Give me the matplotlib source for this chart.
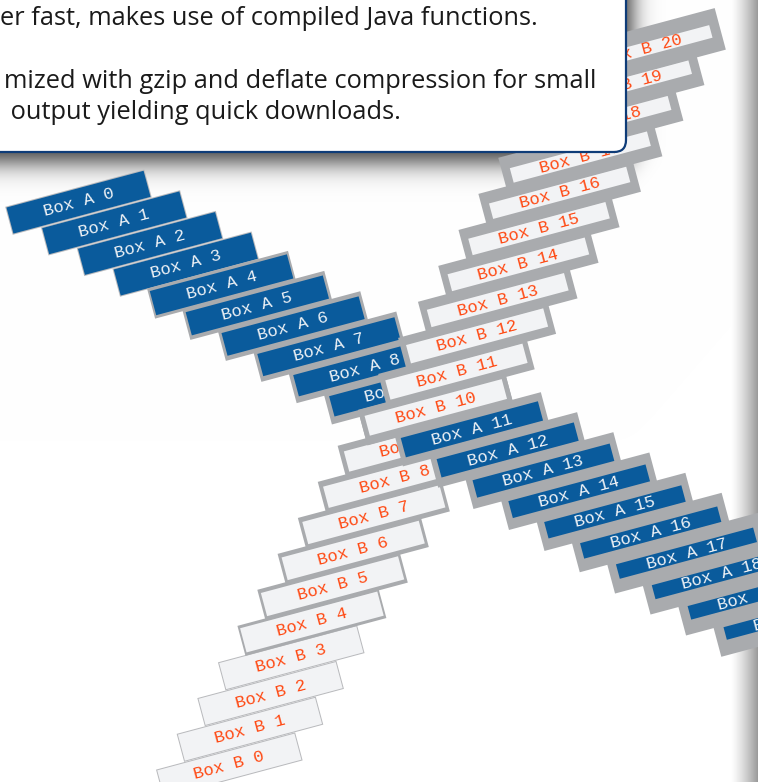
import numpy as np
import matplotlib
matplotlib.use('Agg')
import matplotlib.pyplot as plt
from matplotlib.patches import Rectangle, FancyBboxPatch

# ---- data ----
a_labels = ['Box A %d' % i for i in range(21)]
b_labels = ['Box B %d' % i for i in range(21)]
# border thickness of each box (px, top/bottom), grows with the index
a_border = [1, 1, 1, 1, 3, 4, 4.5, 5, 6, 7, 7.5, 8, 9, 10, 10.5, 11, 12, 13, 13.5, 14, 15]
b_border = [1, 1, 1, 1, 3, 4, 4.5, 5, 6, 7, 7.5, 8, 9, 10, 10.5, 11, 12, 13, 13.5, 14, 15]
panel_lines = ['er fast, makes use of compiled Java functions.',
               'mized with gzip and deflate compression for small',
               ' output yielding quick downloads.']

# ---- layout / style ----
W, H, DPI = 758, 782, 100
ANGLE = 15.0
STEP = 29.2                      # step along and across the rotated frame
A_ORIGIN = (23.5, 215.6)         # (u, v) in the rotated frame
B_ORIGIN = (23.5, 798.3)
INNER_W = 142
BOX_H = 28
BLUE = '#0a5b9c'
LIGHT = '#f2f3f5'
GRAY = '#a9abae'
THIN = '#b9babd'
ORANGE = '#ff4a14'

fig = plt.figure(figsize=(W / DPI, H / DPI), dpi=DPI)
ax = fig.add_axes([0, 0, 1, 1])
ax.set_xlim(0, W)
ax.set_ylim(H, 0)
ax.axis('off')

# background: panel shadow and the page edge on the right
xx, yy = np.meshgrid(np.arange(W) + 0.5, np.arange(H) + 0.5)
sx = 1 / (1 + np.exp((xx - 632) / 6.5))
sy = 1 / (1 + np.exp((yy - 162) / 7.5))
shade = 0.78 * sx * sy
edge = np.clip((xx - 731) / 27.0, 0, 1) ** 1.3 * 0.4
val = 1 - np.maximum(shade, edge)
bg = np.dstack([val, val, val])
ax.imshow(bg, extent=(0, W, H, 0), interpolation='bilinear', zorder=0)

c, s = np.cos(np.radians(ANGLE)), np.sin(np.radians(ANGLE))


def to_xy(u, v):
    return u * c + v * s, -u * s + v * c


def draw_box(cx, cy, b, fill, label, tcolor, z):
    side = 0.65 * b if b > 1 else 1
    ih = BOX_H - b
    ow, oh = INNER_W + 2 * side, ih + 2 * b
    ax.add_patch(Rectangle((cx - ow / 2, cy - oh / 2), ow, oh, angle=-ANGLE,
                           rotation_point='center', fc=GRAY if b > 1 else THIN,
                           ec='none', zorder=z))
    ax.add_patch(Rectangle((cx - INNER_W / 2, cy - ih / 2), INNER_W, ih, angle=-ANGLE,
                           rotation_point='center', fc=fill, ec='none', zorder=z + 0.1))
    ax.text(cx, cy + 0.5, label, rotation=ANGLE, rotation_mode='anchor',
            ha='center', va='center', family='Liberation Mono', fontsize=12.4,
            color=tcolor, zorder=z + 0.2)


z = 2
for i in range(len(a_labels)):
    ax_, ay_ = to_xy(A_ORIGIN[0] + STEP * i, A_ORIGIN[1] + STEP * i)
    draw_box(ax_, ay_, a_border[i], BLUE, a_labels[i], '#eef2f6', z)
    z += 1
    bx_, by_ = to_xy(B_ORIGIN[0] + STEP * i, B_ORIGIN[1] - STEP * i)
    draw_box(bx_, by_, b_border[i], LIGHT, b_labels[i], ORANGE, z)
    z += 1

# text panel on top
ax.add_patch(FancyBboxPatch((-40, -40), 666, 192,
                            boxstyle='round,pad=0,rounding_size=12',
                            fc='white', ec='#0e3c78', lw=1.6, zorder=200))
for txt, x, y in zip(panel_lines, [0, 4, 4], [25, 88, 119]):
    ax.text(x, y, txt, ha='left', va='baseline', family='Open Sans',
            fontsize=18.3, color='#1a1a1a', zorder=201)

fig.savefig('out.png', dpi=DPI)
